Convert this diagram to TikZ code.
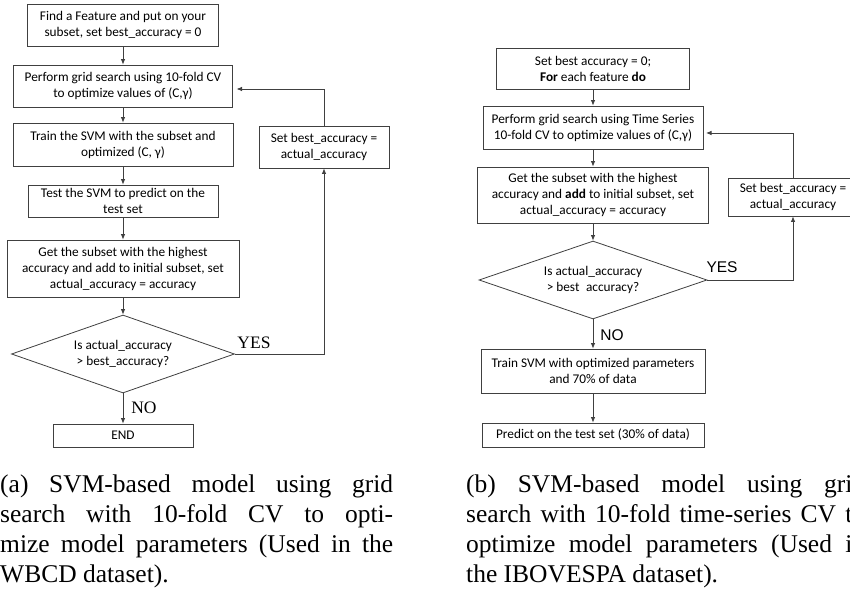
\documentclass[tikz,border=0pt]{standalone}
\usepackage{fontspec}
\setmainfont{Liberation Serif}
\newfontfamily\boxfont{Carlito}
\newfontfamily\arialfont{Liberation Sans}
\usetikzlibrary{shapes.geometric,arrows.meta}
\begin{document}
\begin{tikzpicture}[x=1pt,y=-1pt,
  box/.style={draw=black!75, line width=0.8pt, rectangle, inner sep=0pt, align=center,
    font=\boxfont\fontsize{13.3}{16}\selectfont, text=black},
  dia/.style={draw=black!75, line width=0.8pt, diamond, aspect=2.8, inner sep=0pt, align=center,
    font=\boxfont\fontsize{13.3}{16}\selectfont, text=black},
  arr/.style={draw=black!75, line width=0.8pt, -{Latex[length=5.5pt,width=4.5pt]}},
  lblT/.style={font=\fontsize{17.5}{20}\selectfont, inner sep=0pt},
  lblA/.style={font=\arialfont\fontsize{15.5}{18}\selectfont, inner sep=0pt},
  captext/.style={font=\fontsize{25.5}{30}\selectfont, inner sep=0pt, anchor=base west}]
\useasboundingbox (0,0) rectangle (850,593);
\fill[white] (0,0) rectangle (850,593);
\clip (0,0) rectangle (850,593);

% ---------- left flowchart ----------
\node[box, minimum width=191pt, minimum height=42pt] (L1) at (123,25)
  {Find a Feature and put on your\\subset, set best\_accuracy = 0};
\node[box, minimum width=219pt, minimum height=42pt] (L2) at (123,86)
  {Perform grid search using 10-fold CV\\to optimize values of (C,γ)};
\node[box, minimum width=220pt, minimum height=43pt] (L3) at (123,144.5)
  {Train the SVM with the subset and\\optimized (C, γ)};
\node[box, minimum width=190pt, minimum height=32pt] (L4) at (123,201)
  {Test the SVM to predict on the\\test set};
\node[box, minimum width=232pt, minimum height=57pt] (L5) at (123,268.5)
  {Get the subset with the highest\\accuracy and add to initial subset, set\\actual\_accuracy = accuracy};
\node[dia, minimum width=223pt, minimum height=78pt] (LD) at (123,354)
  {Is actual\_accuracy\\> best\_accuracy?};
\node[box, minimum width=140pt, minimum height=23pt] (LE) at (123,435.5) {END};
\node[box, minimum width=130pt, minimum height=42pt] (LS) at (324,147)
  {Set best\_accuracy =\\actual\_accuracy};
\coordinate (LT) at (236.5,89);

\draw[arr] (L1) -- (L2);
\draw[arr] (L2) -- (L3);
\draw[arr] (L3) -- (L4);
\draw[arr] (L4) -- (L5);
\draw[arr] (L5) -- (LD);
\draw[arr] (LD) -- (LE);
\draw[arr] (LD.east) -| (LS.south);
\draw[arr] (LS.north) |- (LT);
\node[lblT] (LYES) at (254,343) {YES};
\node[lblT] (LNO) at (144,408) {NO};

% ---------- right flowchart ----------
\node[box, minimum width=193pt, minimum height=41pt] (R1) at (593,68.5)
  {Set best accuracy = 0;\\\textbf{For} each feature \textbf{do}};
\node[box, minimum width=220pt, minimum height=43pt] (R2) at (593,127.5)
  {Perform grid search using Time Series\\10-fold CV to optimize values of (C,γ)};
\node[box, minimum width=231pt, minimum height=56pt] (R3) at (593,195)
  {Get the subset with the highest\\accuracy and \textbf{add} to initial subset, set\\actual\_accuracy = accuracy};
\node[dia, minimum width=228pt, minimum height=78pt] (RD) at (593,280)
  {Is actual\_accuracy\\> best\phantom{\_}accuracy?};
\node[box, minimum width=224pt, minimum height=44pt] (R4) at (593,371)
  {Train SVM with optimized parameters\\and 70\% of data};
\node[box, minimum width=222pt, minimum height=24pt] (R5) at (593,435)
  {Predict on the test set (30\% of data)};
\node[box, minimum width=130pt, minimum height=38pt] (RS) at (793,197)
  {Set best\_accuracy =\\actual\_accuracy};
\coordinate (RT) at (706,133);

\draw[arr] (R1) -- (R2);
\draw[arr] (R2) -- (R3);
\draw[arr] (R3) -- (RD);
\draw[arr] (RD) -- (R4);
\draw[arr] (R4) -- (R5);
\draw[arr] (RD.east) -| (RS.south);
\draw[arr] (RS.north) |- (RT);
\node[lblA] (RYES) at (722,267) {YES};
\node[lblA] (RNO) at (612,335) {NO};

% ---------- captions ----------
\node[captext] (ca1) at (0,492) {\makebox[393pt][s]{(a) SVM-based model using grid}};
\node[captext] (ca2) at (0,522) {\makebox[393pt][s]{search with 10-fold CV to opti-}};
\node[captext] (ca3) at (0,552) {\makebox[393pt][s]{mize model parameters (Used in the}};
\node[captext] (ca4) at (0,582) {WBCD dataset).};
\node[captext] (cb1) at (466,492) {\makebox[399pt][s]{(b) SVM-based model using grid}};
\node[captext] (cb2) at (466,522) {\makebox[399pt][s]{search with 10-fold time-series CV to}};
\node[captext] (cb3) at (466,552) {\makebox[399pt][s]{optimize model parameters (Used in}};
\node[captext] (cb4) at (466,582) {the IBOVESPA dataset).};
\end{tikzpicture}
\end{document}
